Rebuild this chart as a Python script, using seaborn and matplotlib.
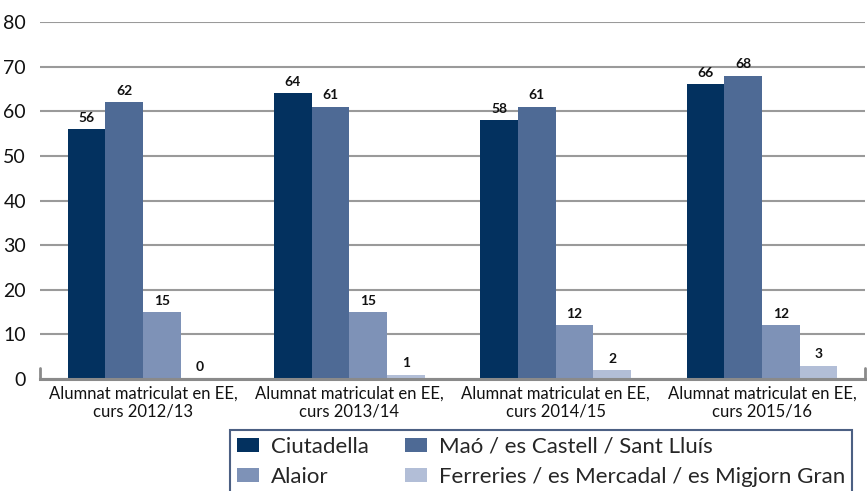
import matplotlib
matplotlib.use("Agg")
import matplotlib.pyplot as plt
import seaborn as sns
import pandas as pd
from matplotlib.patches import Patch

categories = ["Alumnat matriculat en EE,\ncurs 2012/13",
              "Alumnat matriculat en EE,\ncurs 2013/14",
              "Alumnat matriculat en EE,\ncurs 2014/15",
              "Alumnat matriculat en EE,\ncurs 2015/16"]
series_names = ["Ciutadella", "Maó / es Castell / Sant Lluís", "Alaior",
                "Ferreries / es Mercadal / es Migjorn Gran"]
ciutadella = [56, 64, 58, 66]
mao = [62, 61, 61, 68]
alaior = [15, 15, 12, 12]
ferreries = [0, 1, 2, 3]
colors = ["#03315f", "#4e6a95", "#7e92b7", "#b2bed7"]
yticks = [0, 10, 20, 30, 40, 50, 60, 70, 80]

rows = []
for name, vals in zip(series_names, [ciutadella, mao, alaior, ferreries]):
    for c, v in zip(categories, vals):
        rows.append({"cat": c, "serie": name, "val": v})
df = pd.DataFrame(rows)

sns.set_theme(style="white")
plt.rcParams["font.family"] = ["Lato", "DejaVu Sans"]

fig = plt.figure(figsize=(8.67, 4.91), dpi=100)
ax = fig.add_axes([40/867, 1-379/491, 825/867, 357/491])

sns.barplot(data=df, x="cat", y="val", hue="serie", order=categories,
            hue_order=series_names, palette=colors, width=0.73,
            saturation=1, edgecolor="none", legend=False, ax=ax, zorder=3)

for cont in ax.containers:
    ax.bar_label(cont, fmt="%d", padding=4, fontsize=10, fontweight="bold",
                 color="#111111")

ax.set_ylim(0, 80)
ax.set_xlim(-0.5, 3.5)
ax.set_yticks(yticks)
ax.set_yticklabels([str(t) for t in yticks], fontsize=14, color="#111111")
ax.yaxis.grid(True, color="#9a9a9a", linewidth=1.5, zorder=0)
ax.set_axisbelow(True)
for s in ["top", "right", "left"]:
    ax.spines[s].set_visible(False)
ax.spines["bottom"].set_color("#8a8a8a")
ax.spines["bottom"].set_linewidth(2.2)
ax.spines["bottom"].set_zorder(4)
ax.tick_params(axis="y", length=0, pad=10)
ax.tick_params(axis="x", length=0, pad=5, labelsize=12, labelcolor="#111111")
for lbl in ax.get_xticklabels():
    lbl.set_linespacing(1.1)
ax.set_xlabel("")
ax.set_ylabel("")
# short category boundary ticks at both ends
for xb in [-0.5, 3.5]:
    ax.plot([xb, xb], [0, 2.5], color="#8a8a8a", lw=2, clip_on=False, zorder=4)

handles = [Patch(facecolor=c, edgecolor="none") for c in colors]
order = [0, 2, 1, 3]
leg = fig.legend([handles[i] for i in order], [series_names[i] for i in order],
                 ncol=2, loc="upper left", bbox_to_anchor=(230/867, 1-430/491),
                 fontsize=16, frameon=True, fancybox=False,
                 handlelength=1.0, handleheight=0.55, columnspacing=1.6,
                 borderpad=0.3, labelspacing=0.45, handletextpad=0.55,
                 borderaxespad=0)
leg.get_frame().set_edgecolor("#1f3864")
leg.get_frame().set_linewidth(1.5)

fig.savefig("out.png", dpi=100)
